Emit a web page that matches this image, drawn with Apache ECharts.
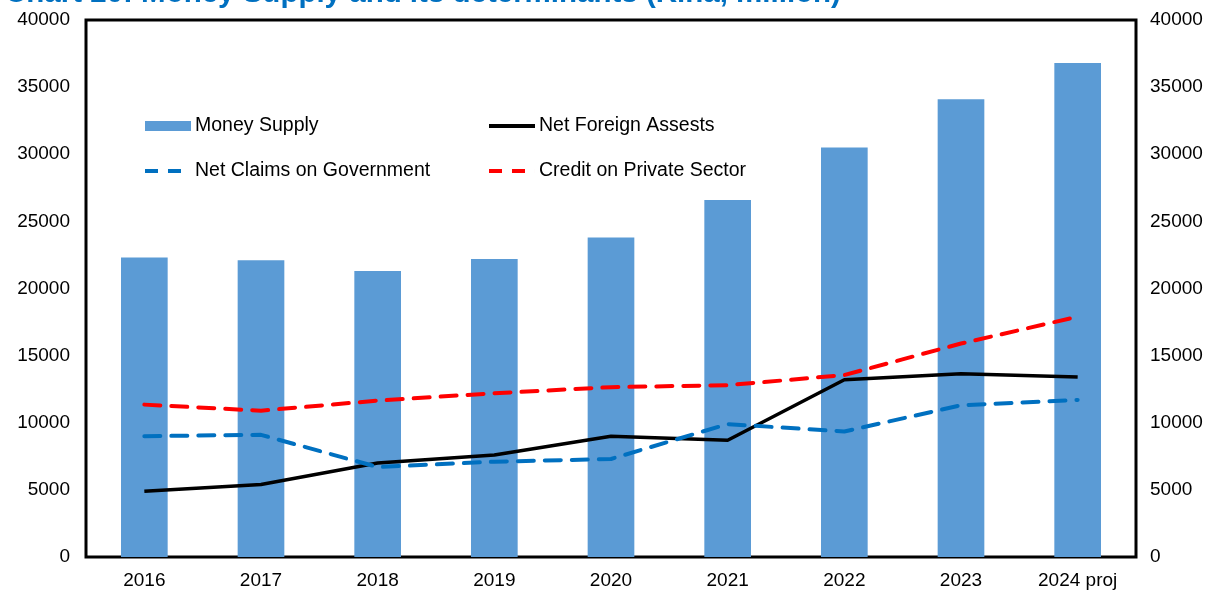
<!DOCTYPE html>
<html>
<head>
<meta charset="utf-8">
<script src="https://cdn.jsdelivr.net/npm/echarts@6/dist/echarts.min.js"></script>
<style>
  html, body { margin: 0; padding: 0; background: #fff; }
  #chart { width: 1210px; height: 592px; }
</style>
</head>
<body>
<div id="chart"></div>
<script>
// values (Kina, million)
var years = ['2016', '2017', '2018', '2019', '2020', '2021', '2022', '2023', '2024 proj'];
var moneySupply = [22300, 22100, 21300, 22200, 23800, 26600, 30500, 34100, 36800];
var netForeignAssets = [4900, 5400, 7000, 7600, 9000, 8700, 13200, 13650, 13400];
var netClaimsGov = [9000, 9100, 6700, 7100, 7300, 9900, 9350, 11300, 11700];
var creditPrivate = [11350, 10900, 11650, 12200, 12650, 12800, 13550, 15900, 17900];

var font = 'Liberation Sans, Arial, sans-serif';
var dashIcon = 'path://M0,0h13v4h-13z M23,0h13v4h-13z M46,0h0.01v4h-0.01z';
var chart = echarts.init(document.getElementById('chart'));

function legendAt(name, icon, h, left, top) {
    return {
        data: [{ name: name, icon: icon }],
        left: left,
        top: top,
        itemWidth: 46,
        itemHeight: h,
        itemGap: 0,
        textStyle: { fontFamily: font, fontSize: 19.5, color: '#000', padding: [0, 0, 0, -1] }
    };
}

function plain(v) { return String(v); }

chart.setOption({
    animation: false,
    title: {
        text: 'Chart 20: Money Supply and its determinants (Kina, million)',
        left: 0,
        top: -26,
        textStyle: { fontFamily: font, fontSize: 29.5, fontWeight: 'bold', color: '#0070C0' }
    },
    legend: [
        legendAt('Money Supply', 'rect', 10, 140, 111),
        legendAt('Net Foreign Assests', 'rect', 4, 484, 111),
        legendAt('Net Claims on Government', dashIcon, 4, 140, 156),
        legendAt('Credit on Private Sector', dashIcon, 4, 484, 156)
    ],
    grid: {
        left: 86,
        right: 74,
        top: 20,
        bottom: 35,
        show: true,
        borderColor: '#000',
        borderWidth: 3
    },
    xAxis: {
        type: 'category',
        data: years,
        axisLine: { show: false },
        axisTick: { show: false },
        axisLabel: { fontFamily: font, fontSize: 19, color: '#000', margin: 14 }
    },
    yAxis: [
        {
            type: 'value',
            min: 0,
            max: 40000,
            interval: 5000,
            splitLine: { show: false },
            axisLine: { show: false },
            axisLabel: { fontFamily: font, fontSize: 19, color: '#000', margin: 16, formatter: plain }
        },
        {
            type: 'value',
            min: 0,
            max: 40000,
            interval: 5000,
            position: 'right',
            splitLine: { show: false },
            axisLine: { show: false },
            axisLabel: { fontFamily: font, fontSize: 19, color: '#000', margin: 14, formatter: plain }
        }
    ],
    series: [
        {
            name: 'Money Supply',
            type: 'bar',
            data: moneySupply,
            barWidth: '40%',
            itemStyle: { color: '#5B9BD5' }
        },
        {
            name: 'Net Foreign Assests',
            type: 'line',
            data: netForeignAssets,
            symbol: 'none',
            lineStyle: { color: '#000', width: 3.5 },
            itemStyle: { color: '#000' }
        },
        {
            name: 'Net Claims on Government',
            type: 'line',
            data: netClaimsGov,
            symbol: 'none',
            lineStyle: { color: '#0070C0', width: 4, type: [16, 11], cap: 'round' },
            itemStyle: { color: '#0070C0' }
        },
        {
            name: 'Credit on Private Sector',
            type: 'line',
            data: creditPrivate,
            symbol: 'none',
            lineStyle: { color: '#FF0000', width: 4, type: [16, 11], cap: 'round' },
            itemStyle: { color: '#FF0000' }
        }
    ]
});
</script>
</body>
</html>
